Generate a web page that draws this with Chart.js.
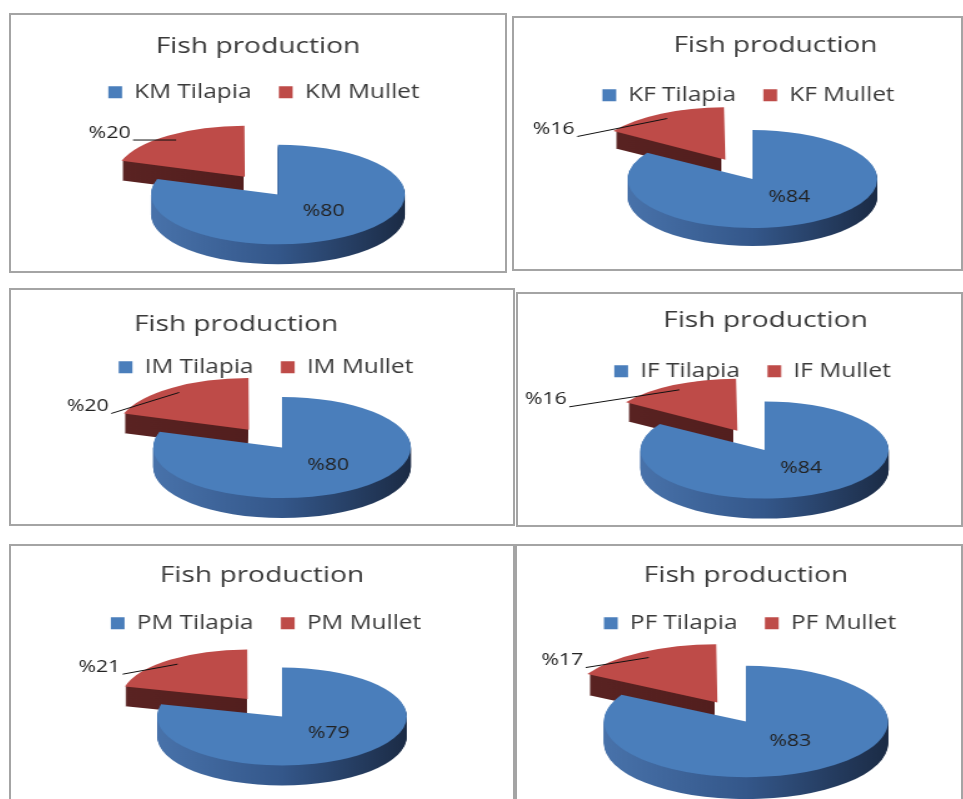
<!DOCTYPE html>
<html>
<head>
<meta charset="utf-8">
<title>Fish production</title>
<script src="https://cdn.jsdelivr.net/npm/chart.js@4.4.1/dist/chart.umd.min.js"></script>
<style>
  body { margin: 0; background: #fff; width: 963px; height: 799px; overflow: hidden; position: relative; }
  .panel { position: absolute; box-sizing: border-box; border: 2px solid #a4a4a4; background: #fff; overflow: hidden; }
  .panel canvas { display: block; }
</style>
</head>
<body>
<script>
// sites and species shares (%)
const siteCodes = ['KM', 'KF', 'IM', 'IF', 'PM', 'PF'];
const species = ['Tilapia', 'Mullet'];
const tilapiaShare = [80, 84, 80, 84, 79, 83];
const mulletShare = [20, 16, 20, 16, 21, 17];
const chartTitle = 'Fish production';

// frame of each panel, pie placement and small nudges (screen px)
const panelBoxes = [
  { left: 9,   top: 13,  width: 498, height: 260, pieX: 20, pieY: 3,   radius: 127, depth: 20, titleX: 0,   titleY: 3,  legendX: 6,  leader: [-43, 0] },
  { left: 512, top: 16,  width: 451, height: 255, pieX: 15, pieY: -13, radius: 125, depth: 18, titleX: 38,  titleY: -1, legendX: 11, leader: [-90, 18] },
  { left: 9,   top: 288, width: 506, height: 238, pieX: 20, pieY: -8,  radius: 129, depth: 20, titleX: -26, titleY: 6,  legendX: 4,  leader: [-68, 21] },
  { left: 516, top: 292, width: 447, height: 235, pieX: 25, pieY: -8,  radius: 124, depth: 20, titleX: 26,  titleY: -2, legendX: 13, leader: [-110, 17] },
  { left: 9,   top: 544, width: 506, height: 280, pieX: 20, pieY: -16, radius: 125, depth: 20, titleX: 0,   titleY: 1,  legendX: 4,  leader: [-55, 10] },
  { left: 515, top: 544, width: 448, height: 280, pieX: 7,  pieY: -11, radius: 142, depth: 22, titleX: 7,   titleY: 1,  legendX: 11, leader: [-63, 10] }
];

const topColors = ['#4a7ebb', '#be4b48'];
const sideColors = [['#4872aa', '#34578a', '#1b2b45'], ['#5a2322', '#4a1a1a']];
const FONT = "'Open Sans', sans-serif";
const STRETCH = 1.25;   // the charts are drawn narrow and widened by CSS
const TILT = 0.49;

// where an arc really sits once its explode offset is applied (same maths as ArcElement.draw)
function arcGeometry(arc) {
  const half = (arc.startAngle + arc.endAngle) / 2;
  const circ = arc.endAngle - arc.startAngle;
  const fix = 1 - Math.sin(Math.min(Math.PI, circ));
  const shift = (arc.options.offset || 0) / 4 * (1 + fix);
  return {
    x: arc.x + Math.cos(half) * shift,
    y: arc.y + Math.sin(half) * shift,
    r: arc.outerRadius, start: arc.startAngle, end: arc.endAngle, half
  };
}

// squashes the pie into an ellipse and extrudes it downwards
const tiltedPie = {
  id: 'tiltedPie',
  beforeDatasetsDraw(chart, args, opts) {
    const ctx = chart.ctx;
    const area = chart.chartArea;
    const cx = (area.left + area.right) / 2;
    const cy = (area.top + area.bottom) / 2;
    const view = { cx, cy, tx: cx + opts.shiftX, ty: cy + opts.shiftY, k: opts.tilt };
    chart.$view = view;

    const arcs = chart.getDatasetMeta(0).data.map(arcGeometry);
    // far slices first
    const order = arcs.map((a, i) => i).sort((a, b) => Math.sin(arcs[a].half) - Math.sin(arcs[b].half));
    order.forEach(i => {
      const a = arcs[i];
      for (let d = opts.depth; d >= 1; d--) {
        ctx.save();
        ctx.translate(view.tx, view.ty + d);
        ctx.scale(1, view.k);
        ctx.translate(-cx, -cy);
        const g = ctx.createLinearGradient(a.x - a.r, 0, a.x + a.r, 0);
        sideColors[i].forEach((c, j, all) => g.addColorStop(j / (all.length - 1), c));
        ctx.fillStyle = g;
        ctx.beginPath();
        ctx.moveTo(a.x, a.y);
        ctx.arc(a.x, a.y, a.r, a.start, a.end);
        ctx.closePath();
        ctx.fill();
        ctx.restore();
      }
    });

    ctx.save();
    ctx.translate(view.tx, view.ty);
    ctx.scale(1, view.k);
    ctx.translate(-cx, -cy);
  },
  afterDatasetsDraw(chart) {
    chart.ctx.restore();
  }
};

// percentage labels, big slice inside, small slice outside with a leader line
const sliceLabels = {
  id: 'sliceLabels',
  afterDatasetsDraw(chart, args, opts) {
    const v = chart.$view;
    const ctx = chart.ctx;
    const values = chart.data.datasets[0].data;
    const toScreen = (x, y) => [x - v.cx + v.tx, (y - v.cy) * v.k + v.ty];
    ctx.save();
    ctx.font = '17px ' + FONT;
    ctx.fillStyle = '#222';
    ctx.strokeStyle = '#111';
    ctx.lineWidth = 1;
    chart.getDatasetMeta(0).data.forEach((arc, i) => {
      const a = arcGeometry(arc);
      const text = '%' + values[i];
      if (i === 0) {
        const [x, y] = toScreen(a.x + Math.cos(a.half) * a.r * 0.61, a.y + Math.sin(a.half) * a.r * 0.42);
        ctx.textAlign = 'center';
        ctx.textBaseline = 'middle';
        ctx.fillText(text, x, y);
      } else {
        const [mx, my] = toScreen(a.x + Math.cos(a.half) * a.r * 0.9, a.y + Math.sin(a.half) * a.r * 0.9);
        const sx = mx + opts.leader[0], sy = my + opts.leader[1];
        ctx.beginPath();
        ctx.moveTo(sx, sy + 0.5);
        ctx.lineTo(mx, my + 0.5);
        ctx.stroke();
        ctx.textAlign = 'right';
        ctx.textBaseline = 'alphabetic';
        ctx.fillText(text, sx - 2, sy - 2);
      }
    });
    ctx.restore();
  }
};

// nudges title and legend
const boxNudge = {
  id: 'boxNudge',
  afterLayout(chart, args, opts) {
    const t = chart.titleBlock;
    if (t) { t.left += opts.titleX; t.right += opts.titleX; t.top += opts.titleY; t.bottom += opts.titleY; }
    if (chart.legend) { chart.legend.left += opts.legendX; chart.legend.right += opts.legendX; }
  }
};

siteCodes.forEach((code, n) => {
  const box = panelBoxes[n];
  const panel = document.createElement('div');
  panel.className = 'panel';
  Object.assign(panel.style, {
    left: box.left + 'px', top: box.top + 'px',
    width: box.width + 'px', height: box.height + 'px'
  });
  const innerW = box.width - 4, innerH = box.height - 4;
  const canvas = document.createElement('canvas');
  canvas.width = Math.round(innerW / STRETCH);
  canvas.height = innerH;
  canvas.style.width = innerW + 'px';
  canvas.style.height = innerH + 'px';
  panel.appendChild(canvas);
  document.body.appendChild(panel);

  const sx = v => v / STRETCH;

  new Chart(canvas, {
    type: 'pie',
    data: {
      labels: species.map(s => code + ' ' + s),
      datasets: [{
        data: [tilapiaShare[n], mulletShare[n]],
        backgroundColor: topColors,
        borderWidth: 0,
        offset: [0, 180],
        hoverOffset: 0,
        radius: sx(box.radius),
        cutout: '0%',
        clip: false
      }]
    },
    options: {
      responsive: false,
      animation: false,
      events: [],
      plugins: {
        title: {
          display: true,
          text: chartTitle,
          color: '#3a3a3a',
          font: { family: FONT, size: 22.5, weight: 'normal', lineHeight: 1 },
          padding: { top: 17, bottom: 6 }
        },
        legend: {
          position: 'top',
          labels: {
            color: '#3a3a3a',
            font: { family: FONT, size: 19.5 },
            boxWidth: 11,
            boxHeight: 12,
            padding: 22
          }
        },
        tooltip: { enabled: false },
        tiltedPie: {
          tilt: TILT,
          depth: box.depth,
          shiftX: sx(box.pieX),
          shiftY: box.pieY
        },
        sliceLabels: { leader: [sx(box.leader[0]), box.leader[1]] },
        boxNudge: { titleX: sx(box.titleX), titleY: box.titleY, legendX: sx(box.legendX) }
      }
    },
    plugins: [tiltedPie, sliceLabels, boxNudge]
  });
});
</script>
</body>
</html>
